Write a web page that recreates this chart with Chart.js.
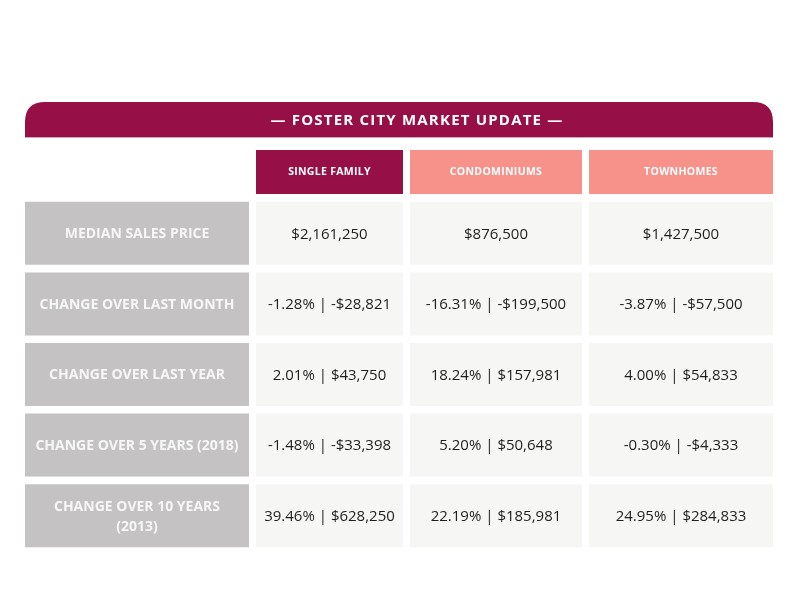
<!DOCTYPE html>
<html>
<head>
<meta charset="utf-8">
<script src="https://cdn.jsdelivr.net/npm/chart.js@4.4.1/dist/chart.umd.min.js"></script>
<style>
  html, body { margin: 0; padding: 0; background: #ffffff; }
  #wrap { width: 800px; height: 600px; }
</style>
</head>
<body>
<div id="wrap"><canvas id="c" width="800" height="600"></canvas></div>
<script>
// ---------------- DATA ----------------
const title = '— FOSTER CITY MARKET UPDATE —';
const columns = ['SINGLE FAMILY', 'CONDOMINIUMS', 'TOWNHOMES'];
const rowLabels = [
  ['MEDIAN SALES PRICE'],
  ['CHANGE OVER LAST MONTH'],
  ['CHANGE OVER LAST YEAR'],
  ['CHANGE OVER 5 YEARS (2018)'],
  ['CHANGE OVER 10 YEARS', '(2013)']
];
// median sales price per column
const medianPrice = [2161250, 876500, 1427500];
// percentage change rows (last month, last year, 5 yrs, 10 yrs)
const singleFamilyPct = [-1.28, 2.01, -1.48, 39.46];
const singleFamilyChange = [-28821, 43750, -33398, 628250];
const condoPct = [-16.31, 18.24, 5.20, 22.19];
const condoChange = [-199500, 157981, 50648, 185981];
const townPct = [-3.87, 4.00, -0.30, 24.95];
const townChange = [-57500, 54833, -4333, 284833];

// ---------------- FORMAT ----------------
function money(v) {
  return (v < 0 ? '-' : '') + '$' + Math.abs(v).toLocaleString('en-US');
}
function cellTexts(price, pct, chg) {
  const out = [money(price)];
  pct.forEach((p, i) => out.push(p.toFixed(2) + '% | ' + money(chg[i])));
  return out;
}
const columnTexts = [
  cellTexts(medianPrice[0], singleFamilyPct, singleFamilyChange),
  cellTexts(medianPrice[1], condoPct, condoChange),
  cellTexts(medianPrice[2], townPct, townChange)
];

// ---------------- LAYOUT / STYLE ----------------
const COLUMN_SPANS = [[0, 224], [231, 378], [385, 557], [564, 748]]; // table width units
const COL_BG = ['#C4C2C3', '#F6F6F5', '#F6F6F5', '#F6F6F5'];
const HEADER_BG = ['#960F47', '#F6928A', '#F6928A'];
const BANNER = '#960F47';
const FONT = '"Open Sans", "Noto Sans", sans-serif';
const TITLE_SHIFT = 18;

const rowKeys = rowLabels.map(l => l.join(' '));

const datasets = COLUMN_SPANS.map((span, ci) => ({
  label: ci === 0 ? 'label' : columns[ci - 1],
  data: rowKeys.map(() => [span[0], span[1]]),
  backgroundColor: COL_BG[ci],
  borderWidth: 0,
  grouped: false,
  barPercentage: 0.893,
  categoryPercentage: 1.0
}));

function setSpacing(ctx, v) { if ('letterSpacing' in ctx) ctx.letterSpacing = v; }

const tablePlugin = {
  id: 'tablePlugin',
  beforeDatasetsDraw(chart) {
    const ctx = chart.ctx;
    const xs = chart.scales.x;
    const top = chart.chartArea.top;
    // banner
    const bx0 = xs.getPixelForValue(0), bx1 = xs.getPixelForValue(748);
    const by0 = top - 96, by1 = top - 61;
    const r = 20;
    ctx.save();
    ctx.fillStyle = BANNER;
    ctx.beginPath();
    ctx.moveTo(bx0, by1);
    ctx.lineTo(bx0, by0 + r);
    ctx.quadraticCurveTo(bx0, by0, bx0 + r, by0);
    ctx.lineTo(bx1 - r, by0);
    ctx.quadraticCurveTo(bx1, by0, bx1, by0 + r);
    ctx.lineTo(bx1, by1);
    ctx.closePath();
    ctx.fill();
    ctx.fillStyle = '#D7A3B9';
    ctx.fillRect(bx0, by1, bx1 - bx0, 1);
    ctx.fillStyle = '#ffffff';
    ctx.font = '700 15px ' + FONT;
    ctx.textAlign = 'center';
    ctx.textBaseline = 'middle';
    setSpacing(ctx, '1.2px');
    ctx.fillText(title, (bx0 + bx1) / 2 + TITLE_SHIFT, (by0 + by1) / 2 + 1);
    // column headers
    const hy0 = top - 48, hy1 = top - 4;
    setSpacing(ctx, '0.3px');
    columns.forEach((c, i) => {
      const span = COLUMN_SPANS[i + 1];
      const x0 = xs.getPixelForValue(span[0]), x1 = xs.getPixelForValue(span[1]);
      ctx.fillStyle = HEADER_BG[i];
      ctx.fillRect(x0, hy0, x1 - x0, hy1 - hy0);
      ctx.fillStyle = '#ffffff';
      ctx.font = '700 10.5px ' + FONT;
      ctx.fillText(c, (x0 + x1) / 2, (hy0 + hy1) / 2);
    });
    setSpacing(ctx, '0px');
    ctx.restore();
  },
  afterDatasetsDraw(chart) {
    const ctx = chart.ctx;
    ctx.save();
    ctx.textAlign = 'center';
    ctx.textBaseline = 'middle';
    chart.data.datasets.forEach((ds, di) => {
      const meta = chart.getDatasetMeta(di);
      meta.data.forEach((el, ri) => {
        const cx = (el.x + el.base) / 2;
        const cy = el.y + 1;
        if (di === 0) {
          ctx.fillStyle = '#F7F7F7';
          ctx.font = '700 14px ' + FONT;
          const lines = rowLabels[ri];
          const lh = 20;
          lines.forEach((t, li) => {
            ctx.fillText(t, cx, cy + (li - (lines.length - 1) / 2) * lh);
          });
        } else {
          ctx.fillStyle = '#1E1E1E';
          ctx.font = '400 15px ' + FONT;
          ctx.fillText(columnTexts[di - 1][ri], cx, cy);
        }
      });
    });
    ctx.restore();
  }
};

new Chart(document.getElementById('c'), {
  type: 'bar',
  data: { labels: rowKeys, datasets },
  options: {
    indexAxis: 'y',
    responsive: false,
    animation: false,
    layout: { padding: { left: 25, right: 27, top: 198, bottom: 49 } },
    scales: {
      x: { type: 'linear', min: 0, max: 748, display: false },
      y: { display: false, offset: true }
    },
    plugins: { legend: { display: false }, tooltip: { enabled: false } }
  },
  plugins: [tablePlugin]
});
</script>
</body>
</html>
